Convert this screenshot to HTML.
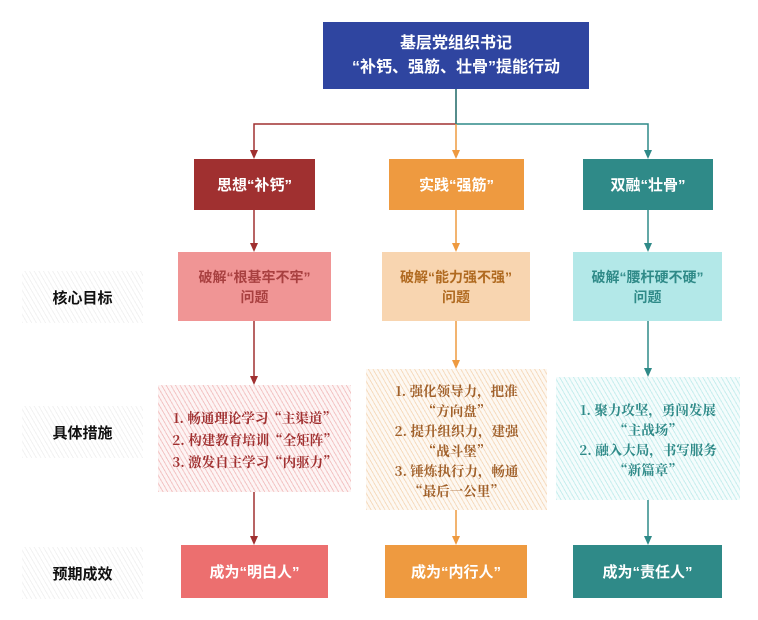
<!DOCTYPE html>
<html><head><meta charset="utf-8"><style>
body{margin:0;background:#fff;width:758px;height:620px;position:relative;overflow:hidden;font-family:"Liberation Sans","Noto Sans CJK SC",sans-serif;}
.b{position:absolute;display:flex;align-items:center;justify-content:center;text-align:center;box-sizing:border-box;font-weight:bold;}
.lab{position:absolute;left:22px;width:121px;height:52px;display:flex;align-items:center;justify-content:center;font-weight:bold;font-size:15px;color:#111;background:repeating-linear-gradient(60deg,#f2f2f2 0 1px,#fff 1px 4px);}
.h{font-family:"Noto Serif CJK SC",serif;font-weight:bold;font-size:13.5px;line-height:20px;}
svg{position:absolute;left:0;top:0}
</style></head><body>
<svg width="758" height="620">
<g fill="none" stroke-width="1.5">
<path d="M456,89 V124 H254 V152" stroke="#a03030"/>
<path d="M456,89 V124 H648 V152" stroke="#2f8a88"/>
<path d="M456,124 V152" stroke="#ee9a40"/>
<path d="M254,210 V245" stroke="#a03030"/>
<path d="M456,210 V245" stroke="#ee9a40"/>
<path d="M648,210 V245" stroke="#2f8a88"/>
<path d="M254,321 V378" stroke="#a03030"/>
<path d="M456,321 V362" stroke="#ee9a40"/>
<path d="M648,321 V370" stroke="#2f8a88"/>
<path d="M254,492 V538" stroke="#a03030"/>
<path d="M456,510 V538" stroke="#ee9a40"/>
<path d="M648,500 V538" stroke="#2f8a88"/>
</g>
<g>
<path d="M250,150 L258,150 L254,159z" fill="#a03030"/>
<path d="M452,150 L460,150 L456,159z" fill="#ee9a40"/>
<path d="M644,150 L652,150 L648,159z" fill="#2f8a88"/>
<path d="M250,243 L258,243 L254,252z" fill="#a03030"/>
<path d="M452,243 L460,243 L456,252z" fill="#ee9a40"/>
<path d="M644,243 L652,243 L648,252z" fill="#2f8a88"/>
<path d="M250,376 L258,376 L254,385z" fill="#a03030"/>
<path d="M452,360 L460,360 L456,369z" fill="#ee9a40"/>
<path d="M644,368 L652,368 L648,377z" fill="#2f8a88"/>
<path d="M250,536 L258,536 L254,545z" fill="#a03030"/>
<path d="M452,536 L460,536 L456,545z" fill="#ee9a40"/>
<path d="M644,536 L652,536 L648,545z" fill="#2f8a88"/>
</g></svg>
<div class="b" style="left:323px;top:22px;width:266px;height:67px;background:#2f45a0;color:#fff;font-size:16px;line-height:24px;">基层党组织书记<br>“补钙、强筋、壮骨”提能行动</div>
<div class="b" style="left:194px;top:159px;width:121px;height:51px;background:#a03030;color:#fff;font-size:15px;">思想“补钙”</div>
<div class="b" style="left:389px;top:159px;width:135px;height:51px;background:#ee9a40;color:#fff;font-size:15px;">实践“强筋”</div>
<div class="b" style="left:583px;top:159px;width:130px;height:51px;background:#2f8a88;color:#fff;font-size:15px;">双融“壮骨”</div>
<div class="lab" style="top:271px">核心目标</div>
<div class="lab" style="top:406px">具体措施</div>
<div class="lab" style="top:547px">预期成效</div>
<div class="b" style="left:178px;top:252px;width:153px;height:69px;background:#f09595;color:#a84040;font-size:14px;line-height:20px;">破解“根基牢不牢”<br>问题</div>
<div class="b" style="left:382px;top:252px;width:148px;height:69px;background:#f8d5b0;color:#b06a20;font-size:14px;line-height:20px;">破解“能力强不强”<br>问题</div>
<div class="b" style="left:573px;top:252px;width:149px;height:69px;background:#b3e8e8;color:#2f8a88;font-size:14px;line-height:20px;">破解“腰杆硬不硬”<br>问题</div>
<div class="b h" style="left:158px;top:385px;width:193px;height:107px;color:#a03030;background:repeating-linear-gradient(60deg,#f3c5c5 0 1px,#fdf4f4 1px 4px);line-height:22px;">1. 畅通理论学习“主渠道”<br>2. 构建教育培训“全矩阵”<br>3. 激发自主学习“内驱力”</div>
<div class="b h" style="left:366px;top:369px;width:181px;height:141px;color:#a0602a;background:repeating-linear-gradient(60deg,#f6dcc0 0 1px,#fdf8f2 1px 4px);">1. 强化领导力，把准<br>“方向盘”<br>2. 提升组织力，建强<br>“战斗堡”<br>3. 锤炼执行力，畅通<br>“最后一公里”</div>
<div class="b h" style="left:556px;top:377px;width:184px;height:123px;color:#2f8a88;background:repeating-linear-gradient(60deg,#c8eeee 0 1px,#f4fcfc 1px 4px);">1. 聚力攻坚，勇闯发展<br>“主战场”<br>2. 融入大局，书写服务<br>“新篇章”</div>
<div class="b" style="left:181px;top:545px;width:147px;height:53px;background:#ec6f6f;color:#fff;font-size:15px;">成为“明白人”</div>
<div class="b" style="left:385px;top:545px;width:142px;height:53px;background:#ee9a40;color:#fff;font-size:15px;">成为“内行人”</div>
<div class="b" style="left:573px;top:545px;width:149px;height:53px;background:#2f8a88;color:#fff;font-size:15px;">成为“责任人”</div>
</body></html>
